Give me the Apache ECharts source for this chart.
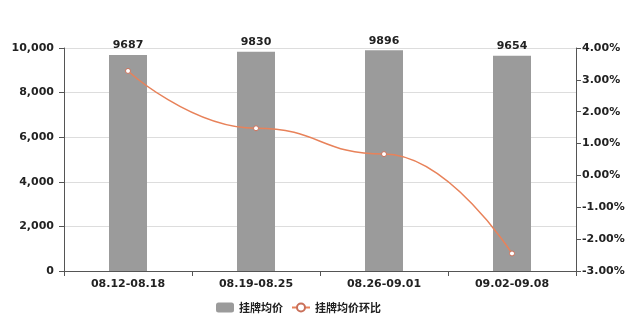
<!DOCTYPE html>
<html><head><meta charset="utf-8">
<script src="https://cdn.jsdelivr.net/npm/echarts@6/dist/echarts.min.js"></script>
<style>html,body{margin:0;padding:0;background:#fff}#c{width:640px;height:320px}</style>
</head><body><div id="c"></div>
<script>
const categories = ['08.12-08.18', '08.19-08.25', '08.26-09.01', '09.02-09.08'];
const avgPrice = [9687, 9830, 9896, 9654];
const avgPriceChange = [3.28, 1.48, 0.67, -2.45];
const leftTicks = {min: 0, max: 10000, interval: 2000};
const rightTicks = {min: -3, max: 4, interval: 1};

const font = '"DejaVu Sans", Verdana, sans-serif';
const chart = echarts.init(document.getElementById('c'));
chart.setOption({
  animation: false,
  textStyle: {fontFamily: font},
  grid: {left: 64, right: 64, top: 48, bottom: 49},
  legend: {
    bottom: 2, left: 211, itemGap: 8, itemWidth: 18, itemHeight: 10,
    textStyle: {fontFamily: '"Noto Sans CJK SC", sans-serif', fontWeight: 'bold', fontSize: 11, color: '#222'},
    data: [{name: '挂牌均价', icon: 'roundRect'}, {name: '挂牌均价环比'}]
  },
  xAxis: {
    type: 'category', data: categories,
    axisLine: {lineStyle: {color: '#555'}},
    axisTick: {show: true, alignWithLabel: false, lineStyle: {color: '#555'}},
    axisLabel: {color: '#222', fontWeight: 'bold', fontSize: 11, margin: 8, fontFamily: font}
  },
  yAxis: [{
    type: 'value', min: leftTicks.min, max: leftTicks.max, interval: leftTicks.interval,
    axisLine: {show: true, lineStyle: {color: '#555'}},
    axisTick: {show: true, lineStyle: {color: '#555'}},
    splitLine: {lineStyle: {color: '#ddd'}},
    axisLabel: {color: '#222', fontWeight: 'bold', fontSize: 11, margin: 10, fontFamily: font,
      formatter: v => v.toLocaleString('en-US')}
  }, {
    type: 'value', min: rightTicks.min, max: rightTicks.max, interval: rightTicks.interval,
    axisLine: {show: true, lineStyle: {color: '#555'}},
    axisTick: {show: true, lineStyle: {color: '#555'}},
    splitLine: {show: false},
    axisLabel: {color: '#222', fontWeight: 'bold', fontSize: 11, margin: 6, fontFamily: font,
      formatter: v => v.toFixed(2) + '%'}
  }],
  series: [{
    name: '挂牌均价', type: 'bar', data: avgPrice, barWidth: 38,
    itemStyle: {color: '#9b9b9b'},
    label: {show: true, position: 'top', distance: 4, color: '#222', fontWeight: 'bold', fontSize: 11, fontFamily: font}
  }, {
    name: '挂牌均价环比', type: 'line', yAxisIndex: 1, data: avgPriceChange,
    smooth: 0.5, smoothMonotone: 'x',
    symbol: 'circle', symbolSize: 5,
    lineStyle: {color: '#e8825a', width: 1.5},
    itemStyle: {color: '#fff', borderColor: '#c9705a', borderWidth: 1}
  }]
});
</script></body></html>
